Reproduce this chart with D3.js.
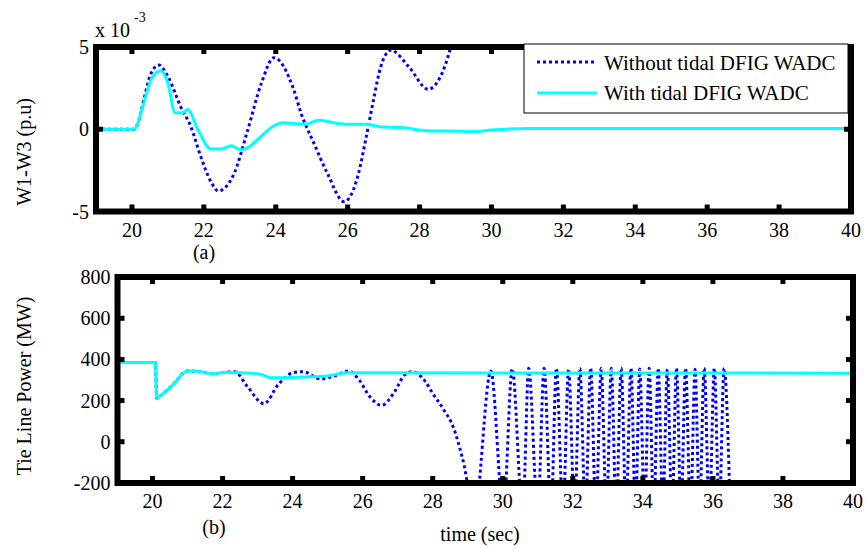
<!DOCTYPE html>
<meta charset="utf-8">
<script src="https://d3js.org/d3.v7.min.js"></script>
<style>
  body { margin: 0; background: #fff; }
  text { font-family: "Liberation Serif", "Times New Roman", serif; fill: #000; }
</style>
<div id="chart"></div>
<script>
// ---- data ----
// (a) rotor speed difference W1-W3, in units of 1e-3 p.u.
var tTopBlue = [19, 20.06, 20.2, 20.33, 20.53, 20.75, 21.0, 21.36, 21.64, 21.92, 22.2, 22.4, 22.84, 23.2, 23.6, 23.95, 24.5, 24.7, 25.06, 25.44, 25.9, 26.3, 26.5, 26.72, 26.92, 27.2, 27.7, 28.24, 28.58, 28.86, 28.95];
var vTopBlue = [0, 0, 0.6, 1.8, 3.4, 3.9, 3.2, 1.35, 0.15, -1.7, -3.2, -3.75, -2.7, -0.2, 2.8, 4.35, 2.4, 1.0, -0.85, -2.7, -4.4, -2.7, -0.65, 1.8, 3.8, 4.8, 3.8, 2.43, 3.2, 4.96, 5.8];
var tTopCyan = [19, 20.06, 20.33, 20.53, 20.8, 21.0, 21.2, 21.4, 21.55, 21.83, 22.2, 22.5, 22.75, 23.03, 23.3, 23.58, 23.94, 24.2, 24.5, 24.8, 25.2, 25.6, 26.0, 26.5, 26.9, 27.5, 28.3, 28.8, 29.5, 30.0, 31.0, 40];
var vTopCyan = [0, 0, 1.6, 3.0, 3.55, 2.8, 1.0, 1.0, 1.2, 0.0, -1.2, -1.2, -1.0, -1.25, -1.0, -0.45, 0.2, 0.4, 0.35, 0.3, 0.55, 0.4, 0.3, 0.3, 0.15, 0.1, -0.1, -0.1, -0.15, -0.05, 0.05, 0.05];

// (b) tie line power, MW
var tBotCyan = [19, 20.08, 20.12, 20.21, 20.6, 20.99, 21.3, 21.73, 22.0, 22.5, 23.08, 23.37, 23.66, 24.3, 24.99, 25.56, 40];
var vBotCyan = [385, 385, 210, 221, 280, 344, 342, 330, 336, 335, 328, 311, 311, 315, 320, 335, 333];
var tBotBlue = [19, 20.08, 20.12, 20.21, 20.6, 20.99, 21.3, 21.73, 22.0, 22.35, 22.7, 23.18, 23.6, 24.0, 24.3, 24.8, 25.2, 25.6, 25.9, 26.2, 26.54, 26.9, 27.2, 27.42, 27.8, 28.0, 28.3, 28.6, 28.85,
  29.2, 29.66, 30.02, 30.27, 30.57, 30.74, 31.0, 31.18, 31.38, 31.53, 31.72, 31.88, 32.05, 32.2, 32.36, 32.51, 32.66, 32.81, 32.96, 33.1, 33.24, 33.38, 33.52, 33.66, 33.79, 33.91,
  34.05, 34.18, 34.31, 34.44, 34.57, 34.7, 34.83, 34.96, 35.09, 35.22, 35.36, 35.49, 35.62, 35.75, 35.9, 36.04, 36.18, 36.32, 36.5];
var vBotBlue = [385, 385, 210, 221, 280, 344, 342, 330, 336, 340, 270, 185, 280, 335, 340, 305, 320, 344, 300, 220, 177, 240, 325, 340, 290, 235, 160, 66, -80,
  -330, 344, -340, 354, -350, 357, -340, 357, -350, 357, -340, 352, -350, 356, -340, 357, -350, 357, -340, 357, -350, 357, -340, 357, -350, 354,
  -340, 357, -350, 357, -340, 352, -350, 357, -340, 357, -350, 352, -340, 357, -350, 357, -340, 357, -380];

var xTicks = [20, 22, 24, 26, 28, 30, 32, 34, 36, 38, 40];
var yTicksTop = [-5, 0, 5];
var yTicksBot = [-200, 0, 200, 400, 600, 800];
var legendLabels = ["Without tidal DFIG WADC", "With tidal DFIG WADC"];

var width = 867, height = 549;
var svg = d3.select("#chart").append("svg")
    .attr("width", width)
    .attr("height", height);

var BLUE = "#0000ff", CYAN = "#00ffff";
var LW = 6;   // frame thickness
var FS = 20;  // tick/label font size

function zip(t, v) { return t.map(function(d, i) { return [d, v[i]]; }); }

function panel(id, x, y, yTicks, series) {
  var x0 = x.range()[0], x1 = x.range()[1], y0 = y.range()[0], y1 = y.range()[1];
  var g = svg.append("g");

  g.append("clipPath").attr("id", id)
    .append("rect").attr("x", x0).attr("y", y1).attr("width", x1 - x0).attr("height", y0 - y1);

  var line = d3.line()
      .x(function(d) { return x(d[0]); })
      .y(function(d) { return y(d[1]); })
      .curve(d3.curveMonotoneX);

  series.forEach(function(s) {
    g.append("path")
      .attr("clip-path", "url(#" + id + ")")
      .attr("d", line(s.data))
      .attr("fill", "none")
      .attr("stroke", s.color)
      .attr("stroke-width", 3)
      .attr("stroke-dasharray", s.dash ? "3,3" : null);
  });

  // heavy frame as one path
  var fr = d3.path();
  fr.moveTo(x0, y1); fr.lineTo(x1, y1); fr.lineTo(x1, y0); fr.lineTo(x0, y0); fr.closePath();
  g.append("path").attr("d", fr.toString())
    .attr("fill", "none").attr("stroke", "black").attr("stroke-width", LW)
    .attr("stroke-linejoin", "miter");

  // inward tick stubs on all four sides
  var tk = d3.path();
  xTicks.forEach(function(t) {
    tk.moveTo(x(t), y0); tk.lineTo(x(t), y0 - 7);
    tk.moveTo(x(t), y1); tk.lineTo(x(t), y1 + 7);
  });
  yTicks.forEach(function(t) {
    tk.moveTo(x0, y(t)); tk.lineTo(x0 + 7, y(t));
    tk.moveTo(x1, y(t)); tk.lineTo(x1 - 7, y(t));
  });
  g.append("path").attr("d", tk.toString())
    .attr("fill", "none").attr("stroke", "black").attr("stroke-width", 5);

  xTicks.forEach(function(t) {
    g.append("text").attr("x", x(t)).attr("y", y0 + 25)
      .attr("text-anchor", "middle").attr("font-size", FS).text(t);
  });
  yTicks.forEach(function(t) {
    g.append("text").attr("x", x0 - 7).attr("y", y(t) + 7)
      .attr("text-anchor", "end").attr("font-size", FS).text(t);
  });
  return g;
}

// ---- panel (a) ----
var xA = d3.scaleLinear().domain([19, 40]).range([96, 851]);
var yA = d3.scaleLinear().domain([-5, 5]).range([211.5, 47]);
panel("clipA", xA, yA, yTicksTop, [
  { data: zip(tTopBlue, vTopBlue), color: BLUE, dash: true },
  { data: zip(tTopCyan, vTopCyan), color: CYAN, dash: false }
]);

svg.append("text").attr("x", 95).attr("y", 37).attr("font-size", FS).text("x 10");
svg.append("text").attr("x", 134).attr("y", 22).attr("font-size", 14).text("-3");
svg.append("text").attr("transform", "translate(31,152) rotate(-90)")
  .attr("text-anchor", "middle").attr("font-size", FS).text("W1-W3 (p.u)");
svg.append("text").attr("x", 204).attr("y", 259).attr("text-anchor", "middle")
  .attr("font-size", FS).text("(a)");

// legend
var lg = svg.append("g");
lg.append("rect").attr("x", 524).attr("y", 44).attr("width", 324).attr("height", 69)
  .attr("fill", "#fff").attr("stroke", "#000").attr("stroke-width", 1);
lg.append("line").attr("x1", 537).attr("x2", 595).attr("y1", 62).attr("y2", 62)
  .attr("stroke", BLUE).attr("stroke-width", 3).attr("stroke-dasharray", "3,3");
lg.append("line").attr("x1", 537).attr("x2", 597).attr("y1", 93).attr("y2", 93)
  .attr("stroke", CYAN).attr("stroke-width", 3);
lg.append("text").attr("x", 604).attr("y", 70).attr("font-size", 21).text(legendLabels[0]);
lg.append("text").attr("x", 604).attr("y", 100).attr("font-size", 21).text(legendLabels[1]);

// ---- panel (b) ----
var xB = d3.scaleLinear().domain([19, 40]).range([117.5, 853]);
var yB = d3.scaleLinear().domain([-200, 800]).range([483, 277]);
panel("clipB", xB, yB, yTicksBot, [
  { data: zip(tBotBlue, vBotBlue), color: BLUE, dash: true },
  { data: zip(tBotCyan, vBotCyan), color: CYAN, dash: false }
]);

svg.append("text").attr("transform", "translate(31,386) rotate(-90)")
  .attr("text-anchor", "middle").attr("font-size", FS).text("Tie Line Power (MW)");
svg.append("text").attr("x", 214).attr("y", 534).attr("text-anchor", "middle")
  .attr("font-size", FS).text("(b)");
svg.append("text").attr("x", 480).attr("y", 541).attr("text-anchor", "middle")
  .attr("font-size", FS).text("time (sec)");
</script>
